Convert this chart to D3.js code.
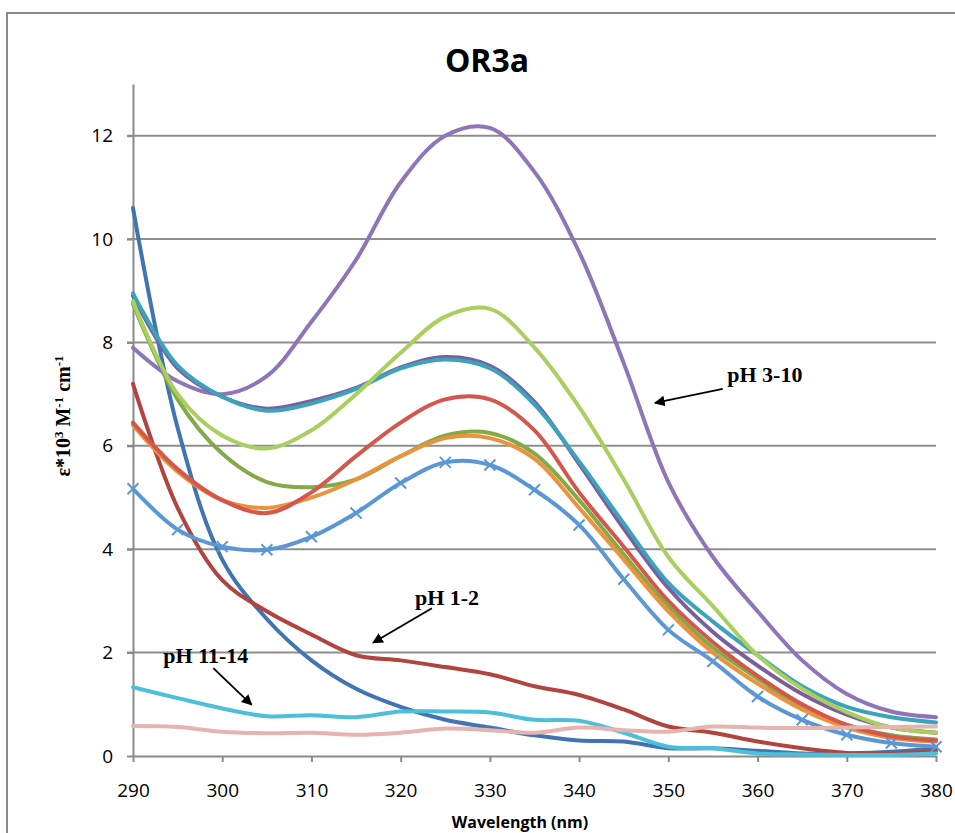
<!DOCTYPE html>
<html>
<head>
<meta charset="utf-8">
<script src="https://cdn.jsdelivr.net/npm/d3@7"></script>
<style>
  body { margin: 0; background: #fff; }
</style>
</head>
<body>
<div id="chart"></div>
<script>
// wavelengths (nm) and absorbance curves
var wavelength = [290, 295, 300, 305, 310, 315, 320, 325, 330, 335, 340, 345, 350, 355, 360, 365, 370, 375, 380];

var steepBlue = [10.6, 6.35, 3.8, 2.65, 1.85, 1.3, 0.95, 0.7, 0.55, 0.4, 0.3, 0.28, 0.15, 0.15, 0.1, 0.05, 0.05, 0.08, 0.15];
var darkRed   = [7.2, 4.8, 3.4, 2.8, 2.35, 1.95, 1.85, 1.72, 1.58, 1.35, 1.18, 0.9, 0.57, 0.45, 0.28, 0.15, 0.06, 0.05, 0.1];
var olive     = [8.75, 6.9, 5.85, 5.3, 5.2, 5.35, 5.8, 6.2, 6.25, 5.85, 4.95, 3.9, 2.9, 2.1, 1.5, 0.95, 0.6, 0.4, 0.32];
var violet    = [7.9, 7.25, 7.0, 7.35, 8.4, 9.6, 11.1, 12.0, 12.15, 11.3, 9.75, 7.6, 5.3, 3.85, 2.8, 1.85, 1.2, 0.86, 0.75];
var violet2   = [8.9, 7.5, 6.95, 6.72, 6.87, 7.12, 7.52, 7.72, 7.55, 6.85, 5.65, 4.4, 3.25, 2.4, 1.75, 1.2, 0.8, 0.55, 0.45];
var teal      = [8.95, 7.55, 6.95, 6.68, 6.82, 7.1, 7.5, 7.67, 7.5, 6.8, 5.7, 4.5, 3.35, 2.6, 1.95, 1.35, 0.95, 0.75, 0.65];
var orange    = [6.4, 5.5, 4.95, 4.8, 5.0, 5.35, 5.8, 6.15, 6.15, 5.75, 4.8, 3.8, 2.8, 2.0, 1.4, 0.9, 0.55, 0.35, 0.28];
var crossBlue = [5.17, 4.38, 4.05, 3.99, 4.24, 4.7, 5.28, 5.68, 5.63, 5.15, 4.47, 3.42, 2.44, 1.83, 1.15, 0.7, 0.41, 0.25, 0.18];
var red       = [6.45, 5.55, 4.95, 4.7, 5.1, 5.8, 6.45, 6.9, 6.9, 6.3, 5.1, 4.05, 3.0, 2.2, 1.55, 1.0, 0.6, 0.38, 0.3];
var lightGreen= [8.8, 7.0, 6.2, 5.95, 6.3, 7.0, 7.8, 8.5, 8.65, 7.9, 6.75, 5.35, 3.85, 2.9, 1.95, 1.3, 0.85, 0.55, 0.45];
var cyan      = [1.33, 1.12, 0.92, 0.77, 0.79, 0.75, 0.86, 0.86, 0.84, 0.7, 0.68, 0.45, 0.18, 0.15, 0.05, 0.03, 0.02, 0.02, 0.05];
var pink      = [0.58, 0.56, 0.47, 0.44, 0.45, 0.41, 0.45, 0.53, 0.5, 0.45, 0.55, 0.5, 0.47, 0.57, 0.55, 0.54, 0.55, 0.56, 0.57];

var xTicks = [290, 300, 310, 320, 330, 340, 350, 360, 370, 380];
var yTicks = [0, 2, 4, 6, 8, 10, 12];

// notes: label position and arrow (from -> to), in data units
var notes = [
  {text: "pH 3-10",  tx: 356.6, ty: 7.24, x1: 356.1, y1: 7.10, x2: 348.5, y2: 6.83},
  {text: "pH 1-2",   tx: 321.6, ty: 2.92, x1: 323.5, y1: 2.86, x2: 316.9, y2: 2.19},
  {text: "pH 11-14", tx: 293.4, ty: 1.80, x1: 299.0, y1: 1.70, x2: 303.3, y2: 0.99}
];

var series = [
  {values: steepBlue,  color: "#4175b2"},
  {values: darkRed,    color: "#b0453f"},
  {values: olive,      color: "#84aa48"},
  {values: violet,     color: "#8f74b7"},
  {values: violet2,    color: "#7b5e9e"},
  {values: teal,       color: "#3ba3ba"},
  {values: orange,     color: "#ea923c"},
  {values: crossBlue,  color: "#5b97d5", cross: true},
  {values: red,        color: "#d4574d"},
  {values: lightGreen, color: "#a9cf5f"},
  {values: cyan,       color: "#4dbfd8"},
  {values: pink,       color: "#e5b3b0"}
];

var svgWidth = 955, svgHeight = 833;
var svg = d3.select('#chart').append("svg")
    .attr("width", svgWidth)
    .attr("height", svgHeight);

// chart frame (runs off the right and bottom edge)
svg.append("rect")
    .attr("x", 7).attr("y", 13)
    .attr("width", 1000).attr("height", 900)
    .attr("fill", "none")
    .attr("stroke", "#8a8a8a")
    .attr("stroke-width", 2);

var x = d3.scaleLinear().domain([290, 380]).range([133, 936]);
var y = d3.scaleLinear().domain([0, 13]).range([756, 84]);

// gridlines
svg.append("g").selectAll("line")
    .data(yTicks.filter(function(d) { return d > 0; }))
    .enter().append("line")
    .attr("x1", x(290) - 6).attr("x2", x(380))
    .attr("y1", function(d) { return y(d); })
    .attr("y2", function(d) { return y(d); })
    .attr("stroke", "#8e8e8e")
    .attr("stroke-width", 2);

var yAxis = svg.append("g")
    .attr("transform", "translate(" + x(290) + ",0)")
    .call(d3.axisLeft(y).tickValues(yTicks).tickSize(6).tickSizeOuter(0).tickPadding(14));

var xAxis = svg.append("g")
    .attr("transform", "translate(0," + y(0) + ")")
    .call(d3.axisBottom(x).tickValues(xTicks).tickSize(6).tickSizeOuter(0).tickPadding(22));

[yAxis, xAxis].forEach(function(a) {
  a.select(".domain").attr("stroke", "#8a8a8a").attr("stroke-width", 2);
  a.selectAll(".tick line").attr("stroke", "#8a8a8a").attr("stroke-width", 2);
  a.selectAll("text")
      .attr("font-family", "'Open Sans', sans-serif")
      .attr("font-size", 19)
      .attr("fill", "#000");
});

// curves
var line = d3.line()
    .x(function(d, i) { return x(wavelength[i]); })
    .y(function(d) { return y(d); })
    .curve(d3.curveCatmullRom.alpha(0.5));

series.forEach(function(s) {
  svg.append("path")
      .attr("d", line(s.values))
      .attr("fill", "none")
      .attr("stroke", s.color)
      .attr("stroke-width", 4)
      .attr("stroke-linecap", "round")
      .attr("stroke-linejoin", "round");
  if (s.cross) {
    svg.append("g").selectAll("path")
        .data(s.values)
        .enter().append("path")
        .attr("transform", function(d, i) { return "translate(" + x(wavelength[i]) + "," + y(d) + ")"; })
        .attr("d", "M-5.5,-5.5L5.5,5.5M-5.5,5.5L5.5,-5.5")
        .attr("stroke", s.color)
        .attr("stroke-width", 2);
  }
});

// title
svg.append("text")
    .attr("x", 487).attr("y", 72)
    .attr("text-anchor", "middle")
    .attr("font-family", "'Open Sans', sans-serif")
    .attr("font-weight", "bold")
    .attr("font-size", 32)
    .text("OR3a");

// x axis title
svg.append("text")
    .attr("x", 520).attr("y", 828)
    .attr("text-anchor", "middle")
    .attr("font-family", "'Open Sans', sans-serif")
    .attr("font-weight", "bold")
    .attr("font-size", 16)
    .text("Wavelength (nm)");

// y axis title with superscripts
var yt = svg.append("text")
    .attr("transform", "translate(70,416) rotate(-90)")
    .attr("text-anchor", "middle")
    .attr("font-family", "'Liberation Serif', serif")
    .attr("font-weight", "bold")
    .attr("font-size", 20);
yt.append("tspan").text("ε*10");
yt.append("tspan").attr("dy", -7).attr("font-size", 13).text("3");
yt.append("tspan").attr("dy", 7).text(" M");
yt.append("tspan").attr("dy", -7).attr("font-size", 13).text("-1");
yt.append("tspan").attr("dy", 7).text(" cm");
yt.append("tspan").attr("dy", -7).attr("font-size", 13).text("-1");

// annotations with arrows
svg.append("defs").append("marker")
    .attr("id", "arrow")
    .attr("viewBox", "0 0 10 10")
    .attr("refX", 9).attr("refY", 5)
    .attr("markerWidth", 6).attr("markerHeight", 6)
    .attr("markerUnits", "strokeWidth")
    .attr("orient", "auto")
  .append("path")
    .attr("d", "M0,0L10,5L0,10z")
    .attr("fill", "#000");

var note = svg.append("g").selectAll("g").data(notes).enter().append("g");
note.append("text")
    .attr("x", function(d) { return x(d.tx); })
    .attr("y", function(d) { return y(d.ty); })
    .attr("font-family", "'Liberation Serif', serif")
    .attr("font-weight", "bold")
    .attr("font-size", 22)
    .text(function(d) { return d.text; });
note.append("line")
    .attr("x1", function(d) { return x(d.x1); })
    .attr("y1", function(d) { return y(d.y1); })
    .attr("x2", function(d) { return x(d.x2); })
    .attr("y2", function(d) { return y(d.y2); })
    .attr("stroke", "#000")
    .attr("stroke-width", 1.8)
    .attr("marker-end", "url(#arrow)");
</script>
</body>
</html>
